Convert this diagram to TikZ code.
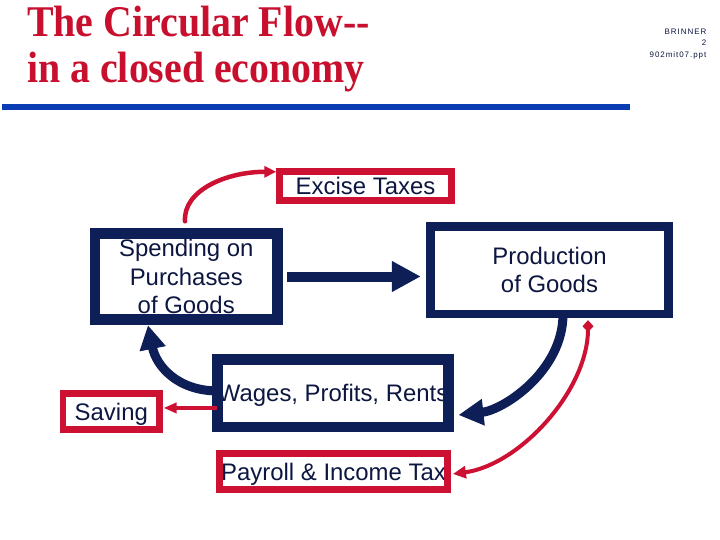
\documentclass[tikz,border=0pt]{standalone}
\usepackage{fontspec}
\usepackage{graphicx}
\setmainfont{Liberation Serif}
\newfontfamily\arialfont{Liberation Sans}
\newfontfamily\notefont[LetterSpace=12]{Liberation Sans}
\usetikzlibrary{arrows.meta}
\definecolor{navy}{HTML}{0E1E56}
\definecolor{flowred}{HTML}{CC1133}
\definecolor{titlered}{HTML}{C8102E}
\definecolor{rulecol}{HTML}{0A3CB4}
\definecolor{txtcol}{HTML}{0C1640}

\begin{document}
\begin{tikzpicture}[x=1bp,y=-1bp,
        box style/.style={inner sep=0pt,align=center,text=txtcol,font=\arialfont\fontsize{24}{28.5}\selectfont},
        one line/.style={text height=17.2bp,text depth=0pt},
        title style/.style={anchor=base west,inner sep=0pt,text=titlered,font=\bfseries\fontsize{40}{48}\selectfont},
        navy frame/.style={draw=navy,line width=#1},
        red frame/.style={draw=flowred,line width=#1},
        red flow/.style={draw=flowred,line width=4.5bp,line cap=round,-{Triangle[width=11bp,length=12bp]}}]
        \useasboundingbox[fill=white] (0,0) rectangle (720,540);
        % heading
        \node[title style] (title1) at (27,37) {\scalebox{1}[1.1]{The Circular Flow{-}{-}}};
        \node[title style] (title2) at (27,83) {\scalebox{1}[1.1]{in a closed economy}};
        \draw[rulecol,line width=6bp] (2,107) -- (630,107);
        \node[anchor=north east,inner sep=0pt,align=right,text=txtcol,font=\notefont\fontsize{8}{11.5}\selectfont] (brinner) at (706.5,28.8) {BRINNER\\2\\902mit07.ppt};
        % boxes
        \node[box style,minimum width=182.5bp,minimum height=86bp] (spending) at (186.25,276.5) {Spending on\\Purchases\\of Goods};
        \node[box style,minimum width=238bp,minimum height=87.5bp] (production) at (549.5,270.25) {Production\\of Goods};
        \node[box style,one line,minimum width=172bp,minimum height=28.5bp] (excise) at (365.5,186.25) {Excise Taxes};
        \node[box style,one line,minimum width=223.7bp,minimum height=67.3bp] (wages) at (333.1,393.35) {Wages, Profits, Rents};
        \node[box style,one line,minimum width=96bp,minimum height=35.5bp] (saving) at (111.3,411.45) {Saving};
        \node[box style,one line,minimum width=228.4bp,minimum height=35.5bp] (payroll) at (333.5,471.45) {Payroll \& Income Tax};
        \draw[navy frame=10.5bp] (spending.south west) rectangle (spending.north east);
        \draw[navy frame=8.5bp] (production.south west) rectangle (production.north east);
        \draw[navy frame=10.5bp] (wages.south west) rectangle (wages.north east);
        \draw[red frame=7bp] (excise.south west) rectangle (excise.north east);
        \draw[red frame=6.5bp] (saving.south west) rectangle (saving.north east);
        \draw[red frame=7bp] (payroll.south west) rectangle (payroll.north east);
        % flows
        \draw[navy,line width=10bp,-{Triangle[width=29bp,length=29bp]},shorten <=9.5bp,shorten >=9.5bp] (spending.east) -- (spending.east -| production.west);
        \draw[navy,line width=9bp,-{Triangle[width=25bp,length=24bp]}] ([shift={(0,-2.4)}]wages.west) .. controls +(-41,0) and +(8,40) .. ([shift={(-38.25,5.5)}]spending.south);
        \draw[navy,line width=9bp,-{Triangle[width=25bp,length=25bp]}] ([shift={(13.5,0)}]production.south) .. controls +(0,57) and +(45,-5) .. ([shift={(10,21.65)}]wages.east);
        \draw[red flow] ([shift={(-1.25,-12)}]spending.north) .. controls +(-2,-31) and +(-50,0) .. ([xshift=-3bp]excise.north west);
        \draw[red flow,line width=4bp,{Diamond[width=11bp,length=12bp]}-{Triangle[width=12bp,length=13bp]}] ([shift={(38.5,6)}]production.south) .. controls +(0,70) and +(67,-9) .. ([shift={(5,2.5)}]payroll.east);
        \coordinate (savein) at ([shift={(4,-3.5)}]saving.east);
        \draw[red flow,line width=4bp,line cap=butt,-{Triangle[width=10bp,length=13bp]}] ([shift={(-1,14.6)}]wages.west) -- (savein);
\end{tikzpicture}
\end{document}
